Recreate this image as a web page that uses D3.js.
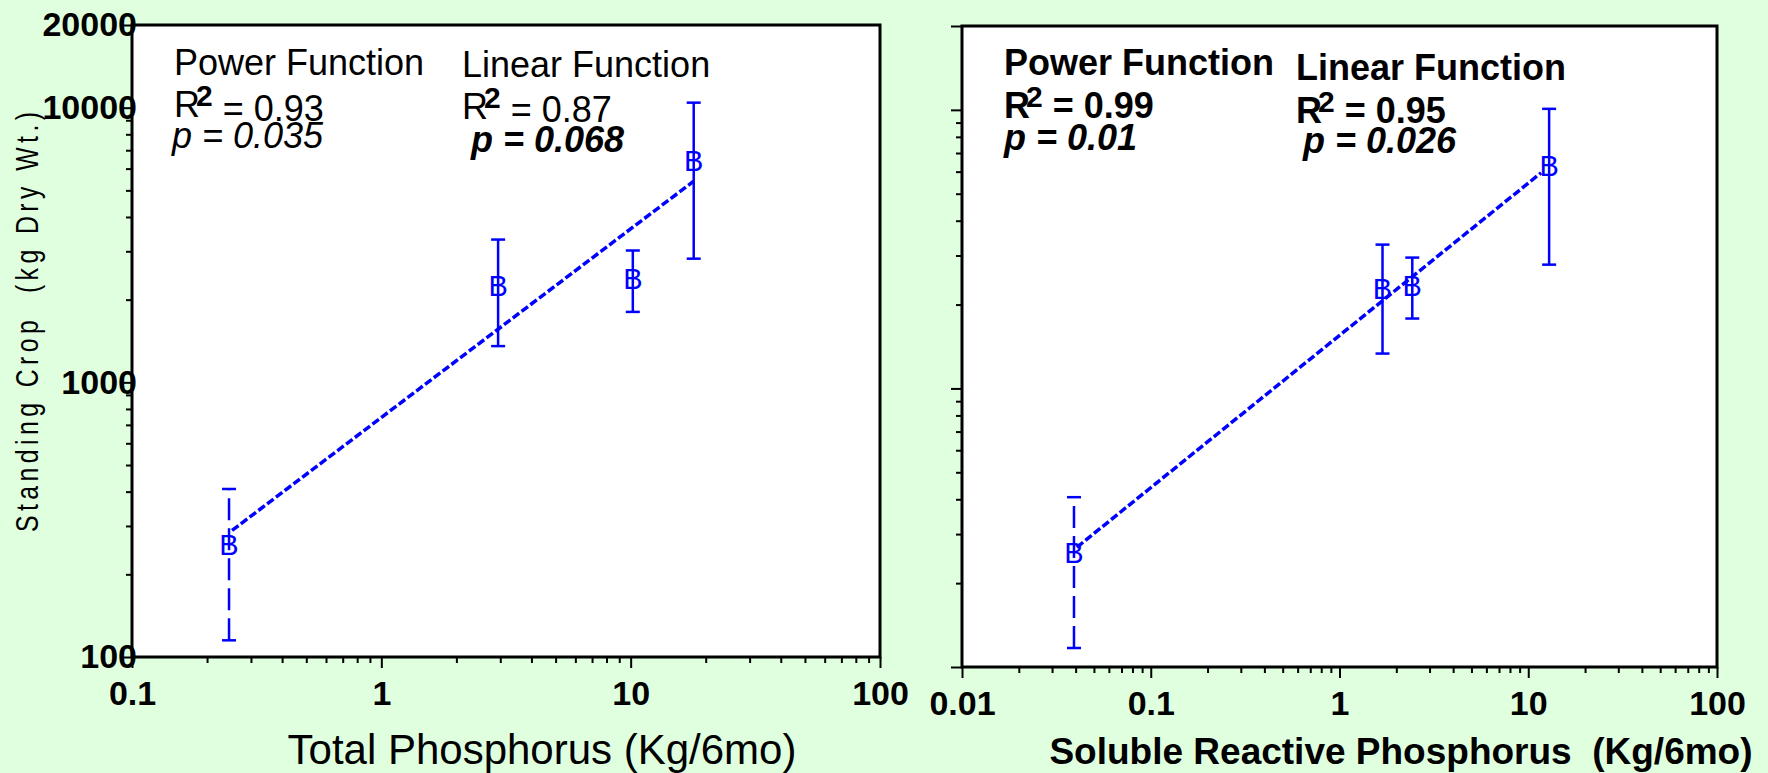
<!DOCTYPE html>
<html>
<head>
<meta charset="utf-8">
<script src="https://cdn.jsdelivr.net/npm/d3@7"></script>
<style>
  body { margin: 0; background: #dfffdf; }
  svg { display: block; }
  text { font-family: "Liberation Sans", Arial, sans-serif; }
</style>
</head>
<body>
<svg id="chart" width="1768" height="773"></svg>
<script>
'use strict';

// y axis (shared): standing crop, kg dry wt.
var yDomain = [100, 20000];
var yMajor = [100, 1000, 10000, 20000];
var yLabels = ['100', '1000', '10000', '20000'];

// left panel: total phosphorus
var tpMajor = [0.1, 1, 10, 100];
var tpLabels = ['0.1', '1', '10', '100'];
var tpX = [0.245, 2.94, 10.2, 17.9];
var tpY = [255, 2250, 2380, 6390];
var tpLo = [115, 1355, 1805, 2820];
var tpHi = [409, 3310, 3020, 10430];
var tpFitX = [0.252, 17.9];
var tpFitY = [289, 5400];

// right panel: soluble reactive phosphorus
var srpMajor = [0.01, 0.1, 1, 10, 100];
var srpLabels = ['0.01', '0.1', '1', '10', '100'];
var srpX = [0.0392, 1.69, 2.43, 12.9];
var srpY = [256, 2280, 2340, 6300];
var srpLo = [117, 1334, 1782, 2782];
var srpHi = [407, 3283, 2949, 10085];
var srpFitX = [0.0406, 11.7];
var srpFitY = [269, 5944];

// fit statistics
var tpPower = ['Power Function', '0.93', '0.035'];
var tpLinear = ['Linear Function', '0.87', '0.068'];
var srpPower = ['Power Function', '0.99', '0.01'];
var srpLinear = ['Linear Function', '0.95', '0.026'];

var BLUE = '#0000ff';
var svg = d3.select('#chart');

svg.append('rect')
  .attr('width', 1768).attr('height', 773)
  .attr('fill', '#dfffdf');

function isDecade(v) {
  var l = Math.log10(v);
  return Math.abs(l - Math.round(l)) < 1e-6;
}

function styleAxis(ax) {
  ax.select('.domain').remove();
  ax.selectAll('line').attr('stroke', '#000').attr('stroke-width', 2);
  ax.attr('font-family', '"Liberation Sans", Arial, sans-serif')
    .attr('font-size', 34)
    .attr('font-weight', 'bold');
  ax.selectAll('text').attr('fill', '#000');
}

// one block of fit text: title, R^2 line, p line
function addNote(g, x, y, vals, st) {
  g.append('text')
    .attr('x', x).attr('y', y)
    .attr('font-size', 36)
    .attr('font-weight', st.titleBold ? 'bold' : 'normal')
    .text(vals[0]);

  var r = g.append('text')
    .attr('x', x).attr('y', y + st.rDy)
    .attr('font-size', 36)
    .attr('font-weight', st.rBold ? 'bold' : 'normal');
  r.append('tspan').text('R');
  r.append('tspan')
    .attr('dx', -4).attr('dy', -11)
    .attr('font-size', 30).attr('font-weight', 'bold')
    .text('2');
  r.append('tspan')
    .attr('dy', 11 + st.rShift)
    .style('white-space', 'pre')
    .text(' = ' + vals[1]);

  g.append('text')
    .attr('x', x + st.pDx).attr('y', y + st.pDy)
    .attr('font-size', 36)
    .attr('font-style', 'italic')
    .attr('font-weight', st.pBold ? 'bold' : 'normal')
    .text('p = ' + vals[2]);
}

function drawPanel(p) {
  var x = d3.scaleLog().domain(p.xDomain).range([p.left, p.right]);
  var y = d3.scaleLog().domain(yDomain).range([p.bottom, p.top]);
  var g = svg.append('g');

  g.append('rect')
    .attr('x', p.left).attr('y', p.top)
    .attr('width', p.right - p.left).attr('height', p.bottom - p.top)
    .attr('fill', '#fff');

  // x axis, minor then major
  var xMinor = x.ticks().filter(function (v) { return !isDecade(v); });
  g.append('g')
    .attr('transform', 'translate(0,' + p.bottom + ')')
    .call(d3.axisBottom(x).tickValues(xMinor).tickSize(6).tickFormat(''))
    .call(styleAxis);
  g.append('g')
    .attr('transform', 'translate(0,' + p.bottom + ')')
    .call(d3.axisBottom(x).tickValues(p.xMajor).tickSize(11).tickPadding(13)
      .tickFormat(function (d, i) { return p.xLabels[i]; }))
    .call(styleAxis);

  // y axis, minor then major
  var yMinor = y.ticks().filter(function (v) { return yMajor.indexOf(v) < 0; });
  g.append('g')
    .attr('transform', 'translate(' + p.left + ',0)')
    .call(d3.axisLeft(y).tickValues(yMinor).tickSize(6).tickFormat(''))
    .call(styleAxis);
  g.append('g')
    .attr('transform', 'translate(' + p.left + ',0)')
    .call(d3.axisLeft(y).tickValues(yMajor).tickSize(11).tickPadding(-16)
      .tickFormat(function (d, i) { return p.yLabels ? p.yLabels[i] : ''; }))
    .call(styleAxis);

  g.append('rect')
    .attr('x', p.left).attr('y', p.top)
    .attr('width', p.right - p.left).attr('height', p.bottom - p.top)
    .attr('fill', 'none')
    .attr('stroke', '#000')
    .attr('stroke-width', 3);

  // fitted line
  var fit = p.fitX.map(function (v, i) { return [v, p.fitY[i]]; });
  g.append('path')
    .datum(fit)
    .attr('d', d3.line()
      .x(function (d) { return x(d[0]); })
      .y(function (d) { return y(d[1]); }))
    .attr('fill', 'none')
    .attr('stroke', BLUE)
    .attr('stroke-width', 3.5)
    .attr('stroke-dasharray', '8,3');

  // error bars
  var pts = p.px.map(function (v, i) {
    return { x: v, y: p.py[i], lo: p.lo[i], hi: p.hi[i], i: i };
  });
  var bars = g.selectAll('g.bar')
    .data(pts)
    .enter().append('g')
    .attr('class', 'bar')
    .attr('stroke', BLUE)
    .attr('stroke-width', 2.5);
  bars.append('line')
    .attr('x1', function (d) { return x(d.x); })
    .attr('x2', function (d) { return x(d.x); })
    .attr('y1', function (d) { return y(d.lo); })
    .attr('y2', function (d) { return y(d.hi); })
    .attr('stroke-dasharray', function (d) { return d.i === 0 ? '22,8' : null; });
  ['lo', 'hi'].forEach(function (k) {
    bars.append('line')
      .attr('x1', function (d) { return x(d.x) - 7; })
      .attr('x2', function (d) { return x(d.x) + 7; })
      .attr('y1', function (d) { return y(d[k]); })
      .attr('y2', function (d) { return y(d[k]); });
  });

  // "B" symbols
  g.selectAll('text.sym')
    .data(pts)
    .enter().append('text')
    .attr('class', 'sym')
    .attr('x', function (d) { return x(d.x); })
    .attr('y', function (d) { return y(d.y); })
    .attr('dy', '0.35em')
    .attr('text-anchor', 'middle')
    .attr('font-family', '"Liberation Serif", "Times New Roman", serif')
    .attr('font-size', 29)
    .attr('fill', BLUE)
    .text('B');

  addNote(g, p.left + 42, 75, p.power, p.powerStyle);
  addNote(g, p.left + p.linDx, p.linTop, p.linear, p.linearStyle);

  // x title
  g.append('text')
    .attr('x', p.titleX).attr('y', 764)
    .attr('text-anchor', 'middle')
    .attr('font-size', p.titleSize)
    .attr('font-weight', p.titleBold ? 'bold' : 'normal')
    .style('white-space', 'pre')
    .text(p.title);
}

drawPanel({
  left: 132, right: 880, top: 25, bottom: 657,
  xDomain: [0.1, 100], xMajor: tpMajor, xLabels: tpLabels, yLabels: yLabels,
  px: tpX, py: tpY, lo: tpLo, hi: tpHi, fitX: tpFitX, fitY: tpFitY,
  power: tpPower, linear: tpLinear, linDx: 330, linTop: 77,
  powerStyle: { titleBold: false, rBold: false, rDy: 42, rShift: 4, pDx: -2, pDy: 73, pBold: false },
  linearStyle: { titleBold: false, rBold: false, rDy: 42, rShift: 3, pDx: 9, pDy: 75, pBold: true },
  title: 'Total Phosphorus (Kg/6mo)', titleX: 542, titleSize: 42, titleBold: false
});

drawPanel({
  left: 962, right: 1717, top: 26, bottom: 667,
  xDomain: [0.01, 100], xMajor: srpMajor, xLabels: srpLabels, yLabels: null,
  px: srpX, py: srpY, lo: srpLo, hi: srpHi, fitX: srpFitX, fitY: srpFitY,
  power: srpPower, linear: srpLinear, linDx: 334, linTop: 80,
  powerStyle: { titleBold: true, rBold: true, rDy: 43, rShift: 0, pDx: 0, pDy: 75, pBold: true },
  linearStyle: { titleBold: true, rBold: true, rDy: 43, rShift: 0, pDx: 7, pDy: 73, pBold: true },
  title: 'Soluble Reactive Phosphorus  (Kg/6mo)', titleX: 1401, titleSize: 37, titleBold: true
});

// y title
svg.append('text')
  .attr('transform', 'translate(38,322) rotate(-90) scale(0.8,1)')
  .attr('text-anchor', 'middle')
  .attr('font-size', 31)
  .attr('textLength', 525)
  .attr('lengthAdjust', 'spacing')
  .style('white-space', 'pre')
  .text('Standing Crop  (kg Dry Wt.)');
</script>
</body>
</html>
